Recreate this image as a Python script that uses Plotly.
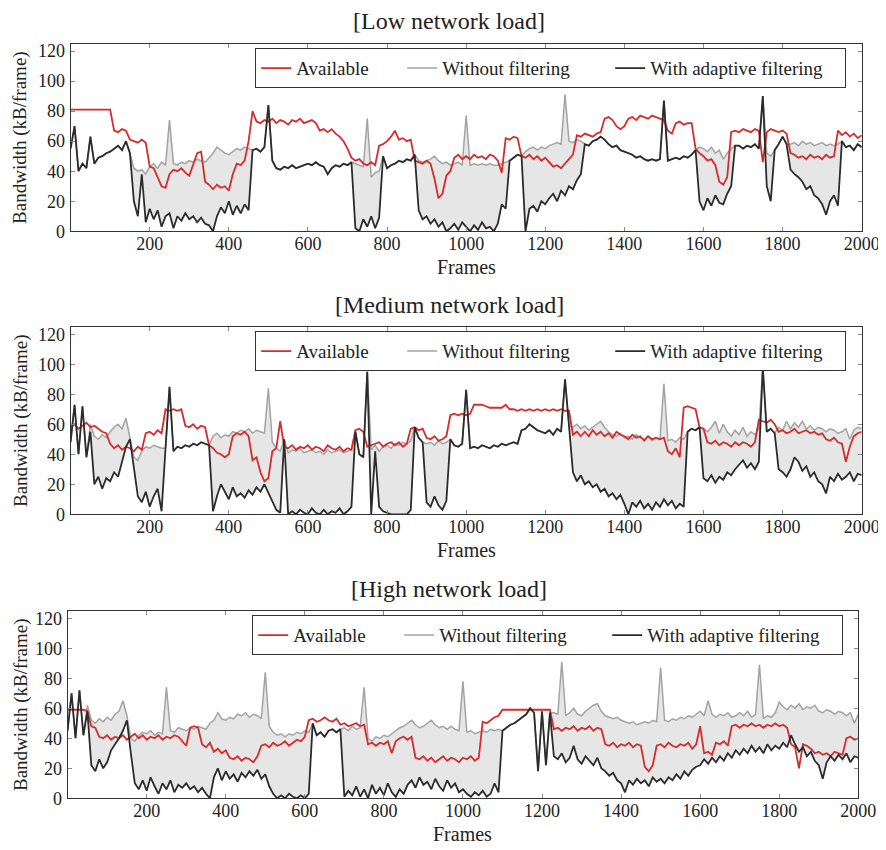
import plotly.graph_objects as go

FRAMES = list(range(0, 2001, 10))
X_TICKS = [200, 400, 600, 800, 1000, 1200, 1400, 1600, 1800, 2000]
Y_TICKS = [0, 20, 40, 60, 80, 100, 120]
TITLES = ["[Low network load]", "[Medium network load]", "[High network load]"]
SERIES_NAMES = ["Available", "Without filtering", "With adaptive filtering"]

LOW_AVAILABLE = [
    81, 81, 81, 81, 81, 81, 81, 81, 81, 81,
    81, 67, 66, 68, 67, 61, 60, 59, 61, 59,
    43, 42, 36, 30, 29, 38, 41, 40, 42, 39,
    37, 44, 52, 53, 33, 31, 28, 31, 29, 30,
    27, 38, 45, 44, 47, 60, 80, 73, 72, 74,
    73, 75, 72, 74, 73, 71, 74, 73, 75, 72,
    73, 74, 72, 67, 68, 66, 68, 65, 63, 60,
    55, 49, 47, 48, 45, 44, 46, 44, 57, 58,
    60, 63, 67, 61, 62, 60, 61, 47, 46, 45,
    47, 45, 35, 22, 25, 37, 40, 49, 51, 48,
    50, 48, 51, 49, 50, 48, 51, 50, 47, 39,
    62, 61, 63, 62, 50, 49, 51, 48, 50, 47,
    49, 46, 43, 44, 42, 45, 48, 51, 64, 63,
    65, 64, 63, 65, 66, 75, 76, 74, 70, 68,
    70, 75, 76, 74, 77, 76, 75, 77, 76, 75,
    74, 67, 65, 72, 73, 71, 72, 72, 55, 52,
    50, 47, 48, 44, 33, 31, 36, 66, 67, 66,
    68, 67, 66, 68, 67, 46, 66, 68, 67, 66,
    67, 65, 52, 51, 49, 50, 48, 51, 49, 50,
    48, 51, 49, 50, 67, 64, 66, 63, 65, 62,
    64,
]
LOW_WITHOUT = [
    55, 70, 40, 45, 42, 63, 45, 49, 50, 52,
    53, 55, 57, 54, 60, 52, 42, 40, 41, 38,
    43, 45, 42, 46, 44, 74, 45, 44, 46, 45,
    47, 46, 48, 47, 46, 49, 52, 56, 54, 52,
    51, 53, 55, 54, 56, 55, 54, 55, 53, 56,
    84, 47, 42, 41, 43, 42, 44, 42, 43, 44,
    45, 44, 46, 44, 43, 38, 42, 44, 43, 45,
    44, 46, 45, 44, 43, 75, 36, 39, 40, 50,
    42, 44, 45, 47, 46, 48, 47, 51, 47, 46,
    47, 48, 50, 47, 45, 46, 44, 45, 46, 44,
    77, 44, 45, 44, 45, 44, 45, 44, 44, 45,
    46, 47, 49, 51, 50, 53, 55, 56, 54, 56,
    55, 57, 58, 59, 58, 91, 60, 59, 61, 60,
    58, 57, 60, 61, 63, 61, 58, 56, 57, 54,
    53, 52, 51, 49, 50, 48, 47, 48, 47, 48,
    87, 47, 48, 49, 48, 50, 49, 51, 54, 56,
    55, 53, 56, 52, 54, 48, 52, 55, 57, 57,
    55, 57, 56, 58, 55, 90, 52, 50, 54, 58,
    63, 58, 58, 59, 57, 60, 58, 59, 57, 58,
    59, 57, 58, 57, 58, 60, 56, 57, 54, 58,
    56,
]
LOW_ADAPTIVE = [
    55, 70, 40, 45, 42, 63, 45, 49, 50, 52,
    53, 55, 57, 54, 60, 52, 20, 10, 38, 6,
    15, 8, 14, 3, 10, 12, 2, 10, 7, 12,
    8, 10, 6, 9, 5, 4, 0, 10, 16, 12,
    20, 11, 17, 12, 18, 14, 54, 55, 53, 56,
    84, 47, 42, 41, 43, 42, 44, 42, 43, 44,
    45, 44, 46, 44, 43, 38, 42, 44, 43, 45,
    44, 46, 2, 0, 8, 3, 10, 2, 9, 50,
    42, 44, 45, 47, 46, 48, 47, 51, 14, 8,
    10, 5, 8, 3, 6, 0, 2, 5, 1, 6,
    3, 0, 4, 1, 6, 2, 3, 0, 5, 18,
    15, 47, 49, 51, 50, 0, 15, 17, 13, 20,
    18, 22, 25, 20, 27, 24, 30, 28, 34, 38,
    58, 57, 60, 61, 63, 61, 58, 56, 57, 54,
    53, 52, 51, 49, 50, 48, 47, 48, 47, 48,
    87, 47, 48, 49, 48, 50, 49, 51, 54, 20,
    14, 22, 17, 24, 19, 18, 25, 30, 57, 57,
    55, 57, 56, 58, 55, 90, 30, 20, 54, 58,
    63, 58, 41, 38, 36, 33, 28, 30, 24, 22,
    18, 11, 20, 24, 17, 60, 56, 57, 54, 58,
    56,
]

MED_AVAILABLE = [
    58, 60, 57, 59, 61, 58, 59, 57, 55, 54,
    47, 44, 46, 43, 45, 44, 42, 45, 43, 54,
    55, 53, 56, 54, 70, 69, 70, 69, 70, 59,
    58, 60, 57, 59, 58, 46, 44, 41, 40, 38,
    40, 52, 54, 53, 55, 52, 36, 38, 28, 22,
    24, 42, 44, 62, 45, 44, 46, 43, 45, 44,
    46, 43, 45, 44, 42, 46, 44, 43, 45, 42,
    44, 43, 56, 57, 55, 45, 46, 47, 48, 45,
    47, 48, 46, 48, 45, 47, 57, 58, 56, 57,
    51, 50, 52, 49, 50, 52, 66, 67, 66, 67,
    66, 67, 73, 73, 73, 72, 71, 71, 71, 71,
    73, 70, 70, 69, 70, 69, 70, 69, 70, 69,
    70, 69, 70, 69, 70, 69, 69, 53, 55, 52,
    55, 52, 56, 53, 55, 52, 54, 51, 55, 53,
    52, 50, 53, 51, 52, 49, 52, 50, 51, 50,
    51, 42, 40, 44, 38, 71, 72, 71, 70, 58,
    57, 48, 47, 49, 46, 48, 47, 45, 48, 46,
    48, 47, 45, 48, 63, 62, 61, 63, 60, 55,
    56, 54, 55, 57, 54, 55, 56, 54, 55, 53,
    54, 50, 49, 51, 48, 47, 35, 45, 52, 54,
    55,
]
MED_WITHOUT = [
    48, 73, 40, 72, 38, 60, 52, 50, 53, 51,
    55, 58, 60, 57, 64, 52, 38, 36, 42, 45,
    44, 46, 45, 44, 44, 85, 42, 45, 44, 46,
    45, 47, 46, 48, 47, 46, 52, 54, 51, 53,
    52, 55, 54, 56, 55, 57, 54, 56, 55, 54,
    84, 48, 44, 42, 50, 41, 43, 42, 44, 41,
    42, 43, 41, 42, 40, 43, 41, 42, 43, 41,
    42, 43, 55, 40, 38, 95, 43, 46, 42, 45,
    46, 44, 47, 46, 48, 47, 49, 58, 51, 48,
    47, 48, 46, 49, 47, 48, 50, 46, 45, 47,
    83, 44, 45, 44, 46, 45, 44, 46, 45, 47,
    46, 47, 48, 47, 56, 57, 60, 58, 56, 55,
    54, 56, 53, 57, 55, 90, 59, 58, 60, 57,
    59, 56, 58, 60, 62, 58, 55, 53, 52, 54,
    51, 52, 50, 53, 51, 50, 52, 49, 51, 50,
    87, 49, 50, 48, 51, 50, 55, 57, 56, 58,
    57, 55, 58, 62, 54, 60, 55, 52, 56, 53,
    58, 52, 55, 53, 57, 98, 55, 57, 54, 58,
    56, 62, 57, 61, 58, 62, 57, 59, 56, 58,
    57, 55, 57, 56, 54, 55, 57, 50, 56, 58,
    57,
]
MED_ADAPTIVE = [
    48, 73, 40, 72, 38, 55, 20, 25, 17, 24,
    22, 28, 25, 35, 45, 50, 30, 12, 8, 15,
    5, 12, 17, 2, 44, 85, 42, 45, 44, 46,
    45, 47, 46, 48, 47, 46, 2, 12, 20, 15,
    10, 18, 12, 14, 11, 16, 13, 18, 15, 20,
    14, 8, 3, 1, 50, 0, 2, 0, 3, 1,
    0, 4, 1, 0, 3, 0, 2, 1, 4, 0,
    2, 5, 55, 40, 38, 95, 0, 42, 5, 2,
    1, 0, 0, 0, 0, 0, 3, 58, 51, 48,
    8, 5, 12, 6, 3, 9, 50, 46, 45, 47,
    83, 44, 45, 44, 46, 45, 44, 46, 45, 47,
    46, 47, 48, 47, 56, 57, 60, 58, 56, 55,
    54, 56, 53, 57, 55, 90, 59, 28, 22, 26,
    20, 22, 18, 20, 15, 17, 12, 14, 10, 13,
    7, 0, 8, 5, 9, 4, 7, 3, 8, 5,
    10, 6, 9, 4, 7, 5, 55, 57, 56, 58,
    24, 22, 26, 21, 25, 23, 28, 26, 30, 33,
    36, 31, 34, 30, 35, 98, 55, 57, 54, 30,
    28, 25, 30, 38, 35, 29, 32, 25, 28, 22,
    20, 14, 25, 22, 27, 23, 25, 28, 22, 27,
    26,
]

HIGH_AVAILABLE = [
    59, 59, 59, 59, 59, 58, 48, 47, 41, 40,
    42, 39, 41, 40, 42, 39, 41, 43, 40, 42,
    39, 41, 40, 42, 39, 41, 40, 42, 41, 38,
    35, 47, 48, 47, 36, 34, 37, 31, 33, 30,
    32, 27, 26, 28, 25, 27, 26, 24, 28, 35,
    36, 34, 37, 35, 36, 38, 35, 37, 39, 38,
    41, 52, 53, 51, 52, 54, 52, 51, 53, 49,
    50, 48, 49, 50, 48, 49, 36, 37, 35, 37,
    36, 38, 30, 38, 40, 41, 39, 41, 27, 26,
    28, 25, 27, 24, 26, 28, 25, 27, 26, 24,
    27, 26, 28, 25, 27, 51, 50, 52, 54, 55,
    59, 59, 59, 59, 59, 59, 59, 59, 59, 59,
    59, 59, 59, 46, 47, 45, 47, 46, 48, 45,
    47, 46, 48, 45, 47, 46, 36, 35, 37, 34,
    36, 35, 37, 34, 36, 35, 21, 18, 22, 35,
    36, 34, 37, 35, 34, 36, 35, 37, 33, 36,
    48, 30, 31, 29, 37, 36, 38, 35, 48, 49,
    47, 49, 48, 50, 48, 49, 47, 49, 48, 50,
    48, 49, 47, 36, 34, 20, 36, 35, 33, 30,
    31, 29, 30, 28, 31, 30, 29, 40, 41, 39,
    40,
]
HIGH_WITHOUT = [
    45, 70, 40, 72, 42, 62, 52, 50, 53, 51,
    54, 52, 56, 58, 65, 55, 40, 38, 42, 44,
    43, 45, 42, 44, 43, 74, 45, 44, 47, 46,
    45, 47, 46, 48, 47, 46, 50, 52, 57, 53,
    52, 54, 53, 56, 55, 57, 54, 56, 55, 53,
    84, 48, 44, 42, 43, 41, 43, 42, 44, 43,
    45, 44, 50, 42, 44, 41, 45, 46, 44, 46,
    47, 45, 48, 46, 47, 74, 40, 38, 41, 40,
    42, 41, 43, 45, 47, 48, 50, 52, 49, 47,
    48, 50, 52, 49, 47, 48, 46, 48, 46, 45,
    78, 44, 45, 43, 44, 45, 44, 46, 45, 46,
    45, 47, 49, 50, 52, 54, 56, 60, 57, 18,
    58, 22, 57, 57, 56, 91, 55, 57, 60, 56,
    55, 58, 60, 62, 63, 58, 55, 54, 53, 54,
    52, 51, 50, 51, 49, 50, 51, 50, 52, 51,
    87, 52, 51, 53, 52, 54, 53, 55, 54, 56,
    58, 55, 65, 56, 54, 56, 55, 57, 54, 55,
    57, 55, 58, 54, 56, 89, 53, 55, 54, 57,
    64, 61, 59, 62, 60, 63, 59, 61, 60, 62,
    58, 57, 59, 58, 56, 58, 57, 55, 57, 50,
    56,
]
HIGH_ADAPTIVE = [
    45, 70, 40, 72, 42, 58, 22, 18, 26, 20,
    24, 32, 36, 40, 45, 52, 30, 10, 6, 12,
    5, 14, 8, 3, 10, 6, 12, 4, 9, 7,
    10, 6, 8, 4, 7, 3, 0, 14, 20, 12,
    18, 13, 16, 11, 17, 14, 18, 15, 19, 13,
    16, 8, 3, 0, 2, 0, 3, 1, 0, 2,
    0, 3, 50, 42, 44, 41, 45, 46, 44, 46,
    1, 5, 2, 8, 1, 6, 0, 9, 3, 7,
    2, 10, 4, 1, 6, 3, 9, 12, 7, 14,
    9, 11, 6, 13, 8, 5, 12, 7, 10, 4,
    6, 3, 1, 4, 2, 5, 1, 3, 10, 4,
    45, 47, 49, 50, 52, 54, 56, 60, 57, 18,
    58, 22, 57, 28, 26, 30, 24, 27, 35, 26,
    23, 28, 25, 22, 27, 20, 18, 15, 17, 12,
    10, 4, 12, 9, 13, 10, 12, 8, 14, 11,
    13, 10, 14, 12, 16, 13, 18, 15, 19, 21,
    22, 26, 23, 27, 24, 28, 25, 30, 27, 32,
    29, 33, 30, 35, 31, 34, 30, 36, 32, 35,
    33, 37, 34, 42, 36, 31, 34, 28, 31, 25,
    22, 13, 24, 28, 25, 29, 26, 30, 24, 28,
    27,
]

for arr in (LOW_AVAILABLE, LOW_WITHOUT, LOW_ADAPTIVE, MED_AVAILABLE, MED_WITHOUT,
            MED_ADAPTIVE, HIGH_AVAILABLE, HIGH_WITHOUT, HIGH_ADAPTIVE):
    assert len(arr) == len(FRAMES), len(arr)

PANELS = [
    (TITLES[0], LOW_AVAILABLE, LOW_WITHOUT, LOW_ADAPTIVE),
    (TITLES[1], MED_AVAILABLE, MED_WITHOUT, MED_ADAPTIVE),
    (TITLES[2], HIGH_AVAILABLE, HIGH_WITHOUT, HIGH_ADAPTIVE),
]

# The page body adds an 8px margin, so the figure is drawn 8px smaller and shifted.
OFF = 8
W, H = 886 - OFF, 850 - OFF
# target pixel boxes (in the 886x850 window) of the plot areas: left, right, top, bottom
BOXES = [(70.6, 861.7, 43.5, 231.3), (70.6, 861.7, 326.7, 514.3), (67.6, 858.3, 610.7, 798.3)]
LEGEND_POS = [(255.2, 48.2), (255.2, 331.2), (252.2, 615.2)]
LEGEND_WIDTHS = [101, 163, 190]


def px(v):
    return (v - OFF) / W


def py(v):
    return 1 - (v - OFF) / H


FONT = "Liberation Serif"
TXT = "#222222"
RED = "#d62b2b"
GRAY = "#a3a3a3"
BLACK = "#2b2b2b"
FILL = "#e6e6e6"

fig = go.Figure()
annotations = []
layout = dict(
    width=W, height=H,
    margin=dict(l=0, r=0, t=0, b=0),
    paper_bgcolor="white", plot_bgcolor="white",
    showlegend=True,
    font=dict(family=FONT, color=TXT),
)

for i, (title, avail, without, adaptive) in enumerate(PANELS):
    n = "" if i == 0 else str(i + 1)
    xa, ya = "x" + n, "y" + n
    leg = "legend" + n
    l, r, t, b = BOXES[i]
    common = dict(xaxis=xa, yaxis=ya, x=FRAMES, mode="lines", hoverinfo="skip")
    fig.add_trace(go.Scatter(y=without, line=dict(width=0, color=GRAY), showlegend=False, **common))
    fig.add_trace(go.Scatter(y=adaptive, line=dict(width=0, color=BLACK), fill="tonexty",
                             fillcolor=FILL, showlegend=False, **common))
    fig.add_trace(go.Scatter(y=without, name=SERIES_NAMES[1], legend=leg, legendrank=2,
                             legendwidth=LEGEND_WIDTHS[1],
                             line=dict(width=1.5, color=GRAY), **common))
    fig.add_trace(go.Scatter(y=avail, name=SERIES_NAMES[0], legend=leg, legendrank=1,
                             legendwidth=LEGEND_WIDTHS[0],
                             line=dict(width=1.8, color=RED), **common))
    fig.add_trace(go.Scatter(y=adaptive, name=SERIES_NAMES[2], legend=leg, legendrank=3,
                             legendwidth=LEGEND_WIDTHS[2],
                             line=dict(width=1.8, color=BLACK), **common))

    axis_common = dict(
        showline=True, linecolor="#333333", linewidth=1, mirror="ticks",
        ticks="inside", ticklen=4, tickcolor="#8a8a8a", tickwidth=1,
        showgrid=False, zeroline=False, automargin=False,
        tickfont=dict(family=FONT, size=18, color=TXT),
    )
    layout["xaxis" + n] = dict(
        domain=[px(l), px(r)], anchor=ya, range=[0, 2000], tickvals=X_TICKS,
        ticklabelstandoff=-4, **axis_common)
    layout["yaxis" + n] = dict(
        domain=[py(b), py(t)], anchor=xa, range=[0, 125], tickvals=Y_TICKS,
        ticklabelstandoff=1, **axis_common)
    lx, ly = LEGEND_POS[i]
    layout[leg] = dict(
        x=px(lx), y=py(ly), xanchor="left", yanchor="top", orientation="h",
        bgcolor="white", bordercolor="#333333", borderwidth=1,
        font=dict(family=FONT, size=19, color=TXT), traceorder="normal",
    )
    annotations.append(dict(text=title, x=px(449), y=py(t - 22), xref="paper", yref="paper",
                            xanchor="center", yanchor="middle", showarrow=False,
                            font=dict(family=FONT, size=24, color=TXT)))
    annotations.append(dict(text="Frames", x=px((l + r) / 2), y=py(b + 36), xref="paper",
                            yref="paper", xanchor="center", yanchor="middle", showarrow=False,
                            font=dict(family=FONT, size=20, color=TXT)))
    annotations.append(dict(text="Bandwidth (kB/frame)", x=px(20.5), y=py((t + b) / 2),
                            xref="paper", yref="paper", xanchor="center", yanchor="middle",
                            textangle=-90, showarrow=False,
                            font=dict(family=FONT, size=19, color=TXT)))

layout["annotations"] = annotations
fig.update_layout(**layout)
fig.write_html("out.html")
